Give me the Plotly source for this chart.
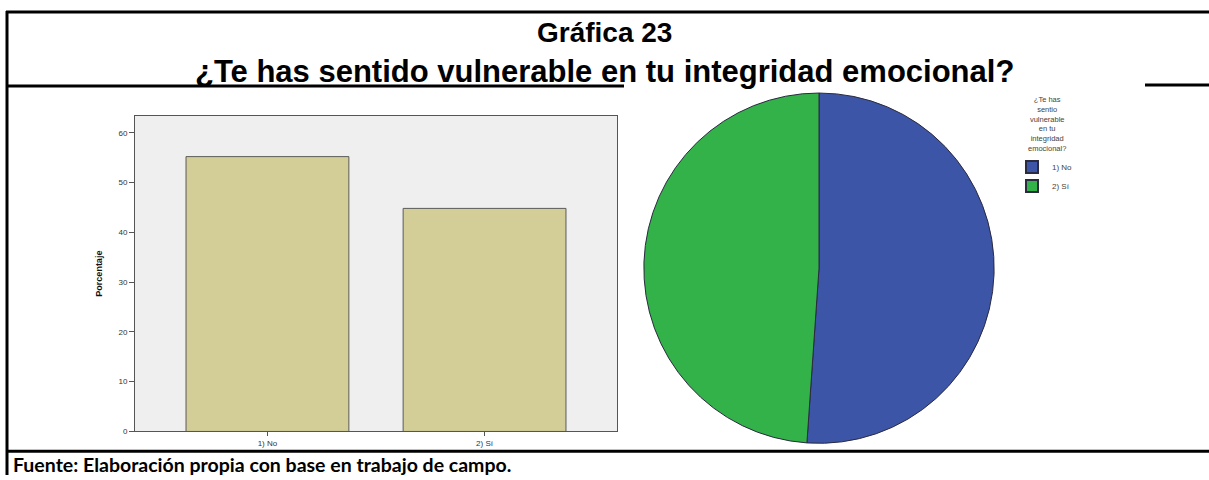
import plotly.graph_objects as go

W, H = 1209, 480

# ---- data ----
categories = ["1) No", "2) Sí"]
bar_percent = [55.2, 44.8]
pie_labels = ["1) No", "2) Sí"]
pie_values = [51.1, 48.9]
y_ticks = [0, 10, 20, 30, 40, 50, 60]

title1 = "Gráfica 23"
title2 = "¿Te has sentido vulnerable en tu integridad emocional?"
footer = "Fuente: Elaboración propia con base en trabajo de campo."
legend_title = "¿Te has<br>sentio<br>vulnerable<br>en tu<br>integridad<br>emocional?"

bar_color = "#d3ce98"
pie_colors = ["#3d55a6", "#34b24a"]


def px(x):
    return x / W


def py(y):
    return 1 - y / H


fig = go.Figure()

fig.add_trace(go.Bar(
    x=categories, y=bar_percent,
    marker=dict(color=bar_color, line=dict(color="#5a5a5a", width=1)),
    width=0.75, showlegend=False, xaxis="x", yaxis="y",
    hoverinfo="x+y",
))

fig.add_trace(go.Pie(
    labels=pie_labels, values=pie_values,
    marker=dict(colors=pie_colors, line=dict(color="#2a2a40", width=1)),
    sort=False, direction="clockwise", rotation=0,
    textinfo="none", hoverinfo="label+percent",
    domain=dict(x=[px(641), px(997)], y=[py(448), py(94)]),
    showlegend=True,
))

fig.update_layout(
    width=W, height=H,
    margin=dict(l=0, r=0, t=0, b=0),
    paper_bgcolor="white",
    plot_bgcolor="#efefef",
    font=dict(family="Arial", color="#333"),
    xaxis=dict(
        domain=[px(135), px(617)],
        range=[-0.61, 1.61],
        showline=True, linecolor="#555", linewidth=1, mirror=True,
        ticks="outside", ticklen=4, tickcolor="#555",
        tickfont=dict(size=8, color="#333"),
        showgrid=False, zeroline=False, fixedrange=True,
    ),
    yaxis=dict(
        domain=[py(436), py(117)],
        range=[0, 63.4],
        tickvals=y_ticks,
        showline=True, linecolor="#555", linewidth=1, mirror=True,
        ticks="outside", ticklen=5, tickcolor="#555",
        tickfont=dict(size=8, color="#333"),
        showgrid=False, zeroline=False, fixedrange=True,
        title=dict(text="<b>Porcentaje</b>", font=dict(size=9, color="#111"), standoff=14),
    ),
    legend=dict(
        x=px(1012), y=py(154), xanchor="left", yanchor="top",
        font=dict(size=8, color="#444"),
        bgcolor="rgba(0,0,0,0)",
        itemsizing="constant", tracegroupgap=0, itemwidth=30,
    ),
    annotations=[
        dict(text="<b>" + title1 + "</b>", x=0.5, y=py(33), xref="paper", yref="paper",
             showarrow=False, font=dict(size=28, color="black", family="Arial"),
             xanchor="center", yanchor="middle"),
        dict(text="<b>" + title2 + "</b>", x=px(605), y=py(72), xref="paper", yref="paper",
             showarrow=False, font=dict(size=31, color="black", family="Arial"),
             xanchor="center", yanchor="middle"),
        dict(text="<b>" + footer + "</b>", x=px(11), y=py(469), xref="paper", yref="paper",
             showarrow=False, font=dict(size=19.5, color="black", family="Lato"),
             xanchor="left", yanchor="middle"),
        dict(text=legend_title, x=px(1047), y=py(94), xref="paper", yref="paper",
             showarrow=False, align="center", font=dict(size=7.5, color="#444"),
             xanchor="center", yanchor="top"),
    ],
    shapes=[
        dict(type="line", xref="paper", yref="paper", x0=px(6), x1=1, y0=py(12), y1=py(12),
             line=dict(color="black", width=3)),
        dict(type="line", xref="paper", yref="paper", x0=px(7), x1=px(7), y0=py(11), y1=0,
             line=dict(color="black", width=3)),
        dict(type="line", xref="paper", yref="paper", x0=px(6), x1=px(624), y0=py(87), y1=py(87),
             line=dict(color="black", width=3)),
        dict(type="line", xref="paper", yref="paper", x0=px(1145), x1=1, y0=py(86), y1=py(86),
             line=dict(color="black", width=3)),
        dict(type="line", xref="paper", yref="paper", x0=px(6), x1=1, y0=py(456), y1=py(456),
             line=dict(color="black", width=3)),
    ],
)

fig.write_html(
    "out.html",
    config={"displayModeBar": False},
    post_script="document.body.style.margin='0';document.body.style.overflow='hidden';",
)
